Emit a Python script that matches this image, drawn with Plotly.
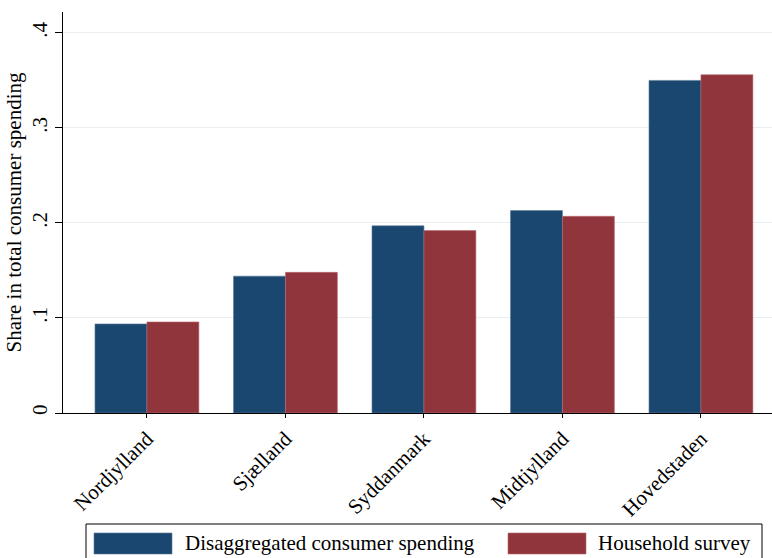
import plotly.graph_objects as go

regions = ["Nordjylland", "Sjælland", "Syddanmark", "Midtjylland", "Hovedstaden"]
disaggregated = [0.0937, 0.144, 0.197, 0.213, 0.350]
household = [0.0958, 0.148, 0.192, 0.207, 0.356]
y_ticks = [0, 0.1, 0.2, 0.3, 0.4]
y_tick_labels = ["0", ".1", ".2", ".3", ".4"]

BLUE = "#1a476f"
RED = "#90353b"
FONT = "Liberation Serif"

W, H = 772, 558
L, R, T, B = 63, 0, 12, 145


def px(x):  # pixel -> paper x
    return (x - L) / (W - L - R)


def py(y):  # pixel -> paper y
    return (H - B - y) / (H - T - B)


fig = go.Figure()
fig.add_trace(go.Bar(x=regions, y=disaggregated, name="Disaggregated consumer spending",
                     marker=dict(color=BLUE, line=dict(color="#5a7a98", width=0.6))))
fig.add_trace(go.Bar(x=regions, y=household, name="Household survey",
                     marker=dict(color=RED, line=dict(color="#b86a70", width=0.6))))

fig.update_layout(
    width=W, height=H,
    margin=dict(l=L, r=R, t=T, b=B, pad=0, autoexpand=False),
    paper_bgcolor="white", plot_bgcolor="white",
    barmode="group", bargap=0.25, bargroupgap=0,
    showlegend=False,
    font=dict(family=FONT, size=21, color="black"),
)
fig.update_xaxes(
    range=[-0.606, 4.513], tickangle=-45, showline=True, linecolor="black", linewidth=1.2,
    ticks="outside", ticklen=4, tickcolor="black", tickfont=dict(size=21), showgrid=False,
    automargin=False,
)
fig.update_yaxes(
    range=[0, 0.422], tickvals=y_ticks, ticktext=y_tick_labels, tickangle=-90,
    showline=True, linecolor="black", linewidth=1.2, ticks="outside", ticklen=7,
    tickcolor="black", tickfont=dict(size=21), showgrid=True, gridcolor="#e8eef2",
    gridwidth=1.2, zeroline=False, automargin=False,
    title=dict(text="Share in total consumer spending", font=dict(size=21), standoff=0),
)

# legend box drawn by hand (Stata-style large swatches)
shapes = [
    dict(type="rect", xref="paper", yref="paper", x0=px(86), x1=px(762), y0=py(565), y1=py(524),
         line=dict(color="black", width=1), fillcolor="white"),
    dict(type="rect", xref="paper", yref="paper", x0=px(94), x1=px(172), y0=py(554), y1=py(533),
         line=dict(color="#5a7a98", width=0.6), fillcolor=BLUE),
    dict(type="rect", xref="paper", yref="paper", x0=px(508), x1=px(586), y0=py(554), y1=py(533),
         line=dict(color="#b86a70", width=0.6), fillcolor=RED),
]
annotations = [
    dict(xref="paper", yref="paper", x=px(183), y=py(543), xanchor="left", yanchor="middle",
         text="Disaggregated consumer spending", showarrow=False, font=dict(size=21)),
    dict(xref="paper", yref="paper", x=px(596), y=py(543), xanchor="left", yanchor="middle",
         text="Household survey", showarrow=False, font=dict(size=21)),
]
fig.update_layout(shapes=shapes, annotations=annotations)

fig.write_html("out.html", config={"displayModeBar": False})

# drop the default body margin so the figure sits at the window's corner
with open("out.html", encoding="utf-8") as f:
    page = f.read()
page = page.replace("<body>", '<body style="margin:0;overflow:hidden">', 1)
with open("out.html", "w", encoding="utf-8") as f:
    f.write(page)
